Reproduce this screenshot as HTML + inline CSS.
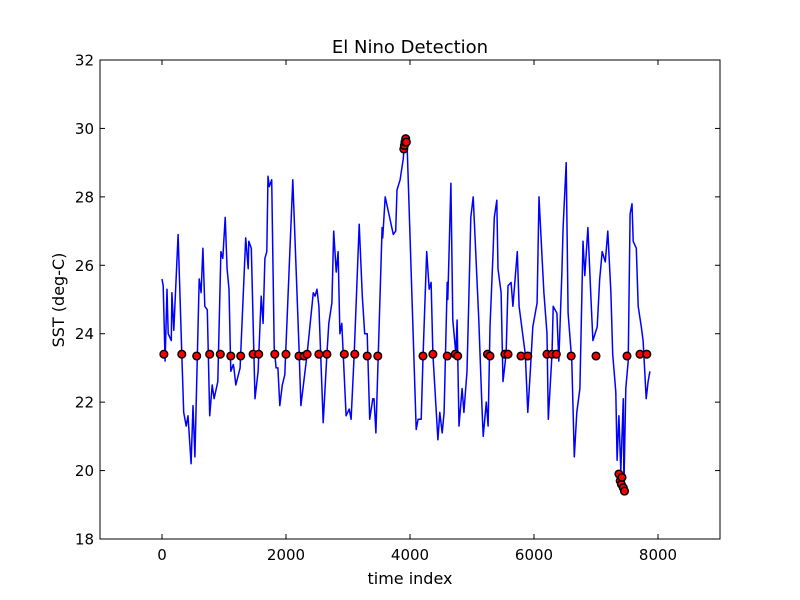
<!DOCTYPE html>
<html><head><meta charset="utf-8"><style>
body{margin:0;background:#fff}
svg{display:block;font-family:"DejaVu Sans","Liberation Sans",sans-serif}
</style></head><body>
<svg id="chart" width="800" height="600" xmlns="http://www.w3.org/2000/svg">
<rect width="800" height="600" fill="#fff"/>
<text x="410" y="53" font-size="18" text-anchor="middle">El Nino Detection</text>
<text x="410" y="584" font-size="16" text-anchor="middle">time index</text>
<text x="0" y="0" font-size="16" text-anchor="middle" transform="translate(64,300) rotate(-90)">SST (deg-C)</text>
<g id="plot"></g>
</svg>
<script>
const xTicks=[0,2000,4000,6000,8000];
const yTicks=[18,20,22,24,26,28,30,32];
const sstIndex=[0,20,50,80,100,150,160,190,260,320,350,390,420,470,500,530,600,630,660,690,730,770,810,840,900,950,980,1020,1050,1080,1110,1150,1160,1190,1260,1350,1390,1400,1440,1500,1550,1600,1630,1660,1690,1710,1730,1770,1810,1840,1870,1900,1940,1980,2110,2210,2240,2340,2440,2470,2500,2530,2600,2660,2690,2740,2770,2810,2840,2870,2900,2970,3020,3050,3100,3180,3230,3270,3310,3350,3400,3420,3450,3550,3560,3600,3730,3770,3790,3840,3890,3920,3950,4100,4130,4180,4210,4270,4310,4340,4370,4450,4480,4520,4550,4600,4610,4660,4690,4740,4760,4790,4840,4870,4920,4950,4980,5020,5060,5110,5160,5180,5230,5260,5290,5340,5360,5400,5420,5470,5500,5550,5580,5630,5660,5730,5760,5810,5860,5900,5940,5980,6050,6080,6130,6160,6210,6230,6290,6310,6370,6400,6450,6470,6520,6550,6610,6650,6690,6740,6790,6820,6870,6920,6950,7020,7060,7100,7150,7190,7240,7270,7320,7340,7370,7400,7440,7450,7480,7520,7550,7580,7600,7650,7680,7730,7760,7810,7840,7870];
const sstValues=[25.6,25.4,23.2,25.3,24.0,23.8,25.2,24.1,26.9,23.4,21.7,21.3,21.6,20.2,21.9,20.4,25.6,25.2,26.5,24.8,24.7,21.6,22.5,22.1,22.6,26.4,26.2,27.4,25.9,25.3,22.9,23.1,23.0,22.5,23.0,26.8,25.9,26.7,26.5,22.1,22.9,25.1,24.3,26.2,26.4,28.6,28.3,28.5,23.6,23.0,23.0,21.9,22.5,22.8,28.5,23.6,21.9,23.4,25.2,25.1,25.3,24.8,21.4,23.4,24.3,24.9,27.0,25.8,26.4,24.0,24.3,21.6,21.8,21.5,23.4,27.2,25.1,24.0,24.0,21.5,22.1,22.1,21.1,27.1,26.8,28.0,26.9,27.0,28.2,28.5,29.1,29.7,29.7,21.2,21.5,21.5,23.3,26.4,25.3,25.5,23.4,20.9,21.7,21.1,21.7,25.5,25.0,28.4,24.4,23.4,24.4,21.3,22.4,21.7,22.9,25.1,27.4,28.0,26.4,24.4,21.9,21.0,22.0,21.3,24.2,26.4,27.4,27.9,25.9,25.2,22.6,23.4,25.4,25.5,24.8,26.4,24.8,24.1,23.4,21.7,22.9,24.2,24.9,28.0,26.2,25.2,24.0,21.5,23.4,24.8,24.6,23.2,25.8,27.1,29.0,24.6,23.2,20.4,21.7,22.4,26.7,25.7,27.1,25.0,23.8,24.2,25.6,26.4,26.1,27.0,25.2,23.4,22.3,20.3,21.6,20.0,22.1,19.5,22.4,23.2,27.5,27.8,26.7,26.5,24.8,24.2,23.8,22.1,22.6,22.9];
const eventIndex=[30,320,560,770,940,1110,1270,1470,1560,1820,2000,2210,2290,2340,2530,2660,2940,3110,3310,3480,3900,3910,3920,3930,3940,4210,4370,4600,4730,4770,5250,5290,5530,5580,5790,5900,6210,6290,6360,6600,7000,7370,7390,7410,7420,7440,7460,7500,7710,7820];
const eventValues=[23.4,23.4,23.35,23.4,23.4,23.35,23.35,23.4,23.4,23.4,23.4,23.35,23.35,23.4,23.4,23.4,23.4,23.4,23.35,23.35,29.4,29.5,29.6,29.7,29.6,23.35,23.4,23.35,23.4,23.35,23.4,23.35,23.4,23.4,23.35,23.35,23.4,23.4,23.4,23.35,23.35,19.9,19.7,19.6,19.8,19.5,19.4,23.35,23.4,23.4];

const L=100,R=720,T=60,B=539,xMin=-1000,xMax=9000,yMin=18,yMax=32;
const xs=v=>L+(v-xMin)/(xMax-xMin)*(R-L);
const ys=v=>B-(v-yMin)/(yMax-yMin)*(B-T);
const NS='http://www.w3.org/2000/svg';
const g=document.getElementById('plot');
function mk(tag,attrs){const e=document.createElementNS(NS,tag);for(const k in attrs)e.setAttribute(k,attrs[k]);g.appendChild(e);return e;}

const pts=sstIndex.map((x,i)=>xs(x).toFixed(1)+','+ys(sstValues[i]).toFixed(1)).join(' ');
const line=mk('polyline',{points:pts,fill:'none',stroke:'#0000ff','stroke-width':1.5,'stroke-linejoin':'round'});



eventIndex.forEach((x,i)=>{
  const c=mk('circle',{cx:xs(x).toFixed(1),cy:ys(eventValues[i]).toFixed(1),r:3.8,fill:'#ff0000',stroke:'#000','stroke-width':1.5});
  
  
});

const frame=mk('rect',{x:L,y:T,width:R-L,height:B-T,fill:'none',stroke:'#000','stroke-width':1});



xTicks.forEach(v=>{
  const x=xs(v);
  const t1=mk('line',{x1:x,x2:x,y1:B,y2:B-5,stroke:'#000'});
  
  
  const t2=mk('line',{x1:x,x2:x,y1:T,y2:T+5,stroke:'#000'});
  
  
  const tx=mk('text',{x:x,y:B+21,'font-size':15,'text-anchor':'middle'});
  tx.textContent=v;
  
  
});
yTicks.forEach(v=>{
  const y=ys(v);
  const t1=mk('line',{x1:L,x2:L+5,y1:y,y2:y,stroke:'#000'});
  
  
  const t2=mk('line',{x1:R,x2:R-5,y1:y,y2:y,stroke:'#000'});
  
  
  const tx=mk('text',{x:L-6,y:y+5.5,'font-size':15,'text-anchor':'end'});
  tx.textContent=v;
  
  
});
</script>
</body></html>
